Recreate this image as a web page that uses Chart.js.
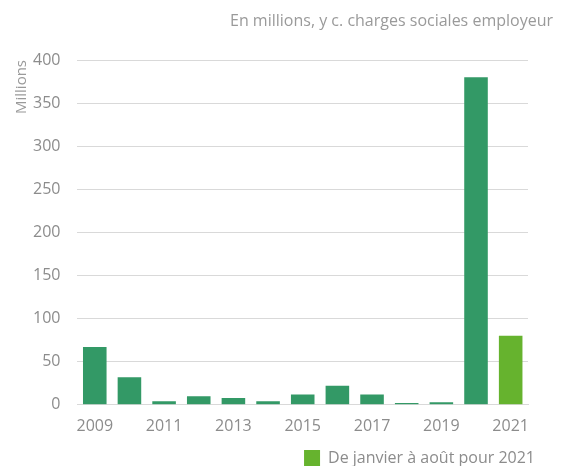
<!DOCTYPE html>
<html>
<head>
<meta charset="utf-8">
<script src="https://cdn.jsdelivr.net/npm/chart.js@4/dist/chart.umd.min.js"></script>
<style>
  html, body { margin: 0; padding: 0; background: #fff; }
  #wrap { width: 568px; height: 466px; }
</style>
</head>
<body>
<div id="wrap"><canvas id="c"></canvas></div>
<script>
const years = ['2009', '2010', '2011', '2012', '2013', '2014', '2015', '2016', '2017', '2018', '2019', '2020', '2021'];
const amounts = [67, 32, 4, 10, 8, 4, 12, 22, 12, 2, 3, 380, 80];
const yTicks = [0, 50, 100, 150, 200, 250, 300, 350, 400];
const subtitle = 'En millions, y c. charges sociales employeur';
const legendLabel = 'De janvier à août pour 2021';

const darkGreen = '#339966';
const lightGreen = '#66b32e';
const grey = '#8c8c8c';
const font = "'Open Sans', 'Noto Sans', sans-serif";

// last bar is a partial year, drawn in the lighter green
const barColors = years.map(y => (y === '2021' ? lightGreen : darkGreen));

// subtitle drawn flush right, like the source
const subtitlePlugin = {
  id: 'subtitleRight',
  afterDraw(chart) {
    const ctx = chart.ctx;
    ctx.save();
    ctx.font = `16px ${font}`;
    ctx.fillStyle = '#9a9a9a';
    ctx.textAlign = 'right';
    ctx.textBaseline = 'middle';
    ctx.fillText(subtitle, chart.width - 15, 21);
    ctx.restore();
  },
};

new Chart(document.getElementById('c'), {
  type: 'bar',
  data: {
    labels: years,
    datasets: [{
      data: amounts,
      backgroundColor: barColors,
      borderWidth: 0,
      barPercentage: 0.68,
      categoryPercentage: 1,
    }],
  },
  options: {
    responsive: true,
    maintainAspectRatio: false,
    animation: false,
    layout: { padding: { left: 5, right: 23, top: 60, bottom: -10 } },
    plugins: {
      legend: {
        position: 'bottom',
        align: 'end',
        labels: {
          boxWidth: 16,
          boxHeight: 16,
          color: grey,
          font: { family: font, size: 16 },
          generateLabels: () => [{
            text: legendLabel,
            fillStyle: lightGreen,
            strokeStyle: lightGreen,
            lineWidth: 0,
            fontColor: grey,
          }],
        },
        onClick: null,
      },
      tooltip: { enabled: false },
    },
    scales: {
      x: {
        grid: { display: false },
        border: { display: true, color: '#d9d9d9' },
        ticks: {
          color: grey,
          padding: 4,
          font: { family: font, size: 16 },
          autoSkip: false,
          maxRotation: 0,
          callback: (v, i) => (i % 2 === 0 ? years[i] : ''),
        },
      },
      y: {
        min: 0,
        max: 400,
        afterBuildTicks: axis => { axis.ticks = yTicks.map(v => ({ value: v })); },
        grid: { color: '#d9d9d9', drawTicks: false },
        border: { display: false },
        ticks: {
          color: grey,
          padding: 17,
          font: { family: font, size: 16 },
        },
        title: {
          display: true,
          text: 'Millions',
          align: 'end',
          color: '#9a9a9a',
          font: { family: font, size: 15 },
          padding: { top: 8, bottom: -15 },
        },
      },
      // empty strip on the right so the plot stops short of the legend edge
      spacer: {
        position: 'right',
        grid: { display: false },
        border: { display: false },
        ticks: { display: false },
        afterFit: axis => { axis.width = 17; },
      },
    },
  },
  plugins: [subtitlePlugin],
});
</script>
</body>
</html>
